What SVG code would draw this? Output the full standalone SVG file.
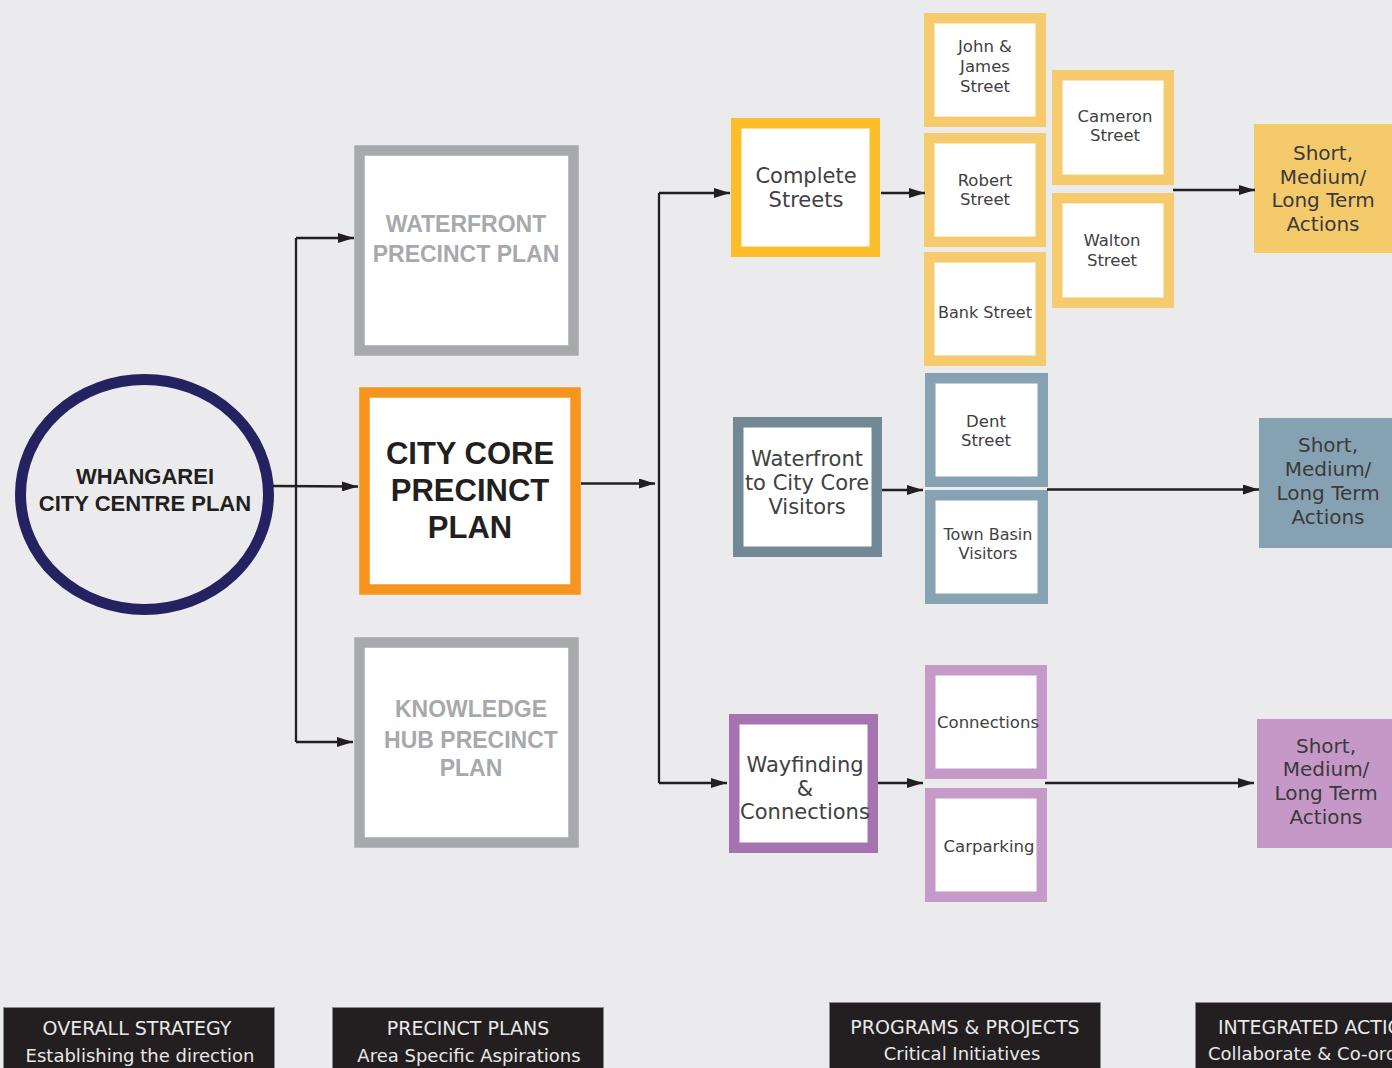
<svg xmlns="http://www.w3.org/2000/svg" width="1392" height="1068" viewBox="0 0 1392 1068">
<defs>
<marker id="arr" markerUnits="userSpaceOnUse" markerWidth="16" markerHeight="10" refX="16" refY="5" orient="auto">
<path d="M0,0 L16,5 L0,10 z" fill="#231F20"/>
</marker>
<style>
.box{fill:#fff;stroke-width:10.5}
.big{font-family:"Liberation Sans",Arial,sans-serif;font-weight:bold;text-anchor:middle}
.lbl{font-family:"DejaVu Sans",sans-serif;fill:#414042;text-anchor:middle}
.m{font-size:21px}
.s{font-size:16.5px}
.act{font-family:"DejaVu Sans",sans-serif;fill:#3a3a3c;text-anchor:middle;font-size:20px}
.leg{fill:#231F20;stroke:#8a8a8a;stroke-width:1}
.legt{font-family:"DejaVu Sans",sans-serif;fill:#e8e8e8;text-anchor:middle}
.con{fill:none;stroke:#231F20;stroke-width:2.3}
</style>
</defs>
<rect x="0" y="0" width="1392" height="1068" fill="#EBEBED"/>

<g id="whangarei">
<ellipse cx="144.5" cy="494.5" rx="124" ry="115" fill="none" stroke="#252262" stroke-width="11"/>
<text class="big" x="145" y="484" font-size="22" fill="#231F20">WHANGAREI</text>
<text class="big" x="145" y="511" font-size="22" fill="#231F20">CITY CENTRE PLAN</text>
</g>

<g id="waterfront-precinct">
<rect class="box" x="359.5" y="150.5" width="214" height="200" stroke="#A7A9AC" stroke-width="11"/>
<text class="big" x="466" y="232" font-size="23" fill="#A7A9AC">WATERFRONT</text>
<text class="big" x="466" y="262" font-size="23" fill="#A7A9AC">PRECINCT PLAN</text>
</g>

<g id="city-core">
<rect class="box" x="364.5" y="392.5" width="211" height="197" stroke="#F7941D" stroke-width="11"/>
<text class="big" x="470" y="464" font-size="31" fill="#231F20">CITY CORE</text>
<text class="big" x="470" y="501" font-size="31" fill="#231F20">PRECINCT</text>
<text class="big" x="470" y="538" font-size="31" fill="#231F20">PLAN</text>
</g>

<g id="knowledge-hub">
<rect class="box" x="359.5" y="642.5" width="214" height="200" stroke="#A7A9AC" stroke-width="11"/>
<text class="big" x="471" y="717" font-size="23" fill="#A7A9AC">KNOWLEDGE</text>
<text class="big" x="471" y="748" font-size="23" fill="#A7A9AC">HUB PRECINCT</text>
<text class="big" x="471" y="776" font-size="23" fill="#A7A9AC">PLAN</text>
</g>

<g id="complete-streets">
<rect class="box" x="736.25" y="123.25" width="138.5" height="128.5" stroke="#FDBE2C"/>
<text class="lbl m" x="806" y="183">Complete</text>
<text class="lbl m" x="806" y="207">Streets</text>
</g>

<g id="john-james">
<rect class="box" x="929.25" y="18.25" width="111.5" height="103.5" stroke="#F5CB6E"/>
<text class="lbl s" x="985" y="52">John &amp;</text>
<text class="lbl s" x="985" y="72">James</text>
<text class="lbl s" x="985" y="92">Street</text>
</g>

<g id="robert">
<rect class="box" x="929.25" y="138.25" width="111.5" height="103.5" stroke="#F5CB6E"/>
<text class="lbl s" x="985" y="186">Robert</text>
<text class="lbl s" x="985" y="205">Street</text>
</g>

<g id="bank">
<rect class="box" x="929.25" y="257.25" width="111.5" height="103.5" stroke="#F5CB6E"/>
<text class="lbl" x="985" y="318" font-size="16">Bank Street</text>
</g>

<g id="cameron">
<rect class="box" x="1057.25" y="75.25" width="111.5" height="104.5" stroke="#F5CB6E"/>
<text class="lbl s" x="1115" y="121.5">Cameron</text>
<text class="lbl s" x="1115" y="141">Street</text>
</g>

<g id="walton">
<rect class="box" x="1057.25" y="198.25" width="111.5" height="104.5" stroke="#F5CB6E"/>
<text class="lbl s" x="1112" y="246">Walton</text>
<text class="lbl s" x="1112" y="266">Street</text>
</g>

<g id="actions-yellow">
<rect x="1254" y="124" width="146" height="129" fill="#F5CA6A"/>
<text class="act" x="1323" y="160">Short,</text>
<text class="act" x="1323" y="184">Medium/</text>
<text class="act" x="1323" y="207">Long Term</text>
<text class="act" x="1323" y="231">Actions</text>
</g>

<g id="waterfront-visitors">
<rect class="box" x="738.25" y="422.25" width="138.5" height="129.5" stroke="#728894"/>
<text class="lbl m" x="807" y="466">Waterfront</text>
<text class="lbl m" x="807" y="490">to City Core</text>
<text class="lbl m" x="807" y="514">Visitors</text>
</g>

<g id="dent">
<rect class="box" x="930.25" y="378.25" width="112.5" height="103.5" stroke="#87A2B2"/>
<text class="lbl s" x="986" y="427">Dent</text>
<text class="lbl s" x="986" y="446">Street</text>
</g>

<g id="town-basin">
<rect class="box" x="930.25" y="495.25" width="112.5" height="103.5" stroke="#87A2B2"/>
<text class="lbl" x="988" y="540" font-size="16">Town Basin</text>
<text class="lbl" x="988" y="559" font-size="16">Visitors</text>
</g>

<g id="actions-blue">
<rect x="1259" y="418" width="141" height="130" fill="#86A2B2"/>
<text class="act" x="1328" y="452">Short,</text>
<text class="act" x="1328" y="476">Medium/</text>
<text class="act" x="1328" y="500">Long Term</text>
<text class="act" x="1328" y="524">Actions</text>
</g>

<g id="wayfinding">
<rect class="box" x="734.25" y="719.25" width="138.5" height="128.5" stroke="#A574B0"/>
<text class="lbl m" x="805" y="772">Wayfinding</text>
<text class="lbl m" x="805" y="796">&amp;</text>
<text class="lbl m" x="805" y="819">Connections</text>
</g>

<g id="connections">
<rect class="box" x="930.25" y="670.25" width="111.5" height="103.5" stroke="#C69AC8"/>
<text class="lbl" x="988" y="728" font-size="16.5">Connections</text>
</g>

<g id="carparking">
<rect class="box" x="930.25" y="793.25" width="111.5" height="103.5" stroke="#C69AC8"/>
<text class="lbl s" x="989" y="852">Carparking</text>
</g>

<g id="actions-purple">
<rect x="1257" y="719" width="143" height="129" fill="#C598C7"/>
<text class="act" x="1326" y="753">Short,</text>
<text class="act" x="1326" y="776">Medium/</text>
<text class="act" x="1326" y="800">Long Term</text>
<text class="act" x="1326" y="824">Actions</text>
</g>

<g id="connectors">
<path class="con" d="M296,238 V742"/>
<path class="con" d="M296,238 H354" marker-end="url(#arr)"/>
<path class="con" d="M273,486 L358,486.5" marker-end="url(#arr)"/>
<path class="con" d="M296,742 H353" marker-end="url(#arr)"/>
<path class="con" d="M581,483.5 H655" marker-end="url(#arr)"/>
<path class="con" d="M659,193 V783"/>
<path class="con" d="M659,193 H730" marker-end="url(#arr)"/>
<path class="con" d="M659,783 H727" marker-end="url(#arr)"/>
<path class="con" d="M881,193 H925" marker-end="url(#arr)"/>
<path class="con" d="M1173,190 H1255" marker-end="url(#arr)"/>
<path class="con" d="M882,490 H923" marker-end="url(#arr)"/>
<path class="con" d="M1047,489.5 H1259" marker-end="url(#arr)"/>
<path class="con" d="M878,783 H923" marker-end="url(#arr)"/>
<path class="con" d="M1045,783 H1254" marker-end="url(#arr)"/>
</g>

<g id="legend-overall">
<rect class="leg" x="3.5" y="1007.5" width="271" height="70"/>
<text class="legt" x="137" y="1035" font-size="19">OVERALL STRATEGY</text>
<text class="legt" x="140" y="1062" font-size="18">Establishing the direction</text>
</g>
<g id="legend-precinct">
<rect class="leg" x="332.5" y="1007.5" width="271" height="70"/>
<text class="legt" x="468" y="1035" font-size="19">PRECINCT PLANS</text>
<text class="legt" x="469" y="1062" font-size="18">Area Specific Aspirations</text>
</g>
<g id="legend-programs">
<rect class="leg" x="829.5" y="1002.5" width="271" height="75"/>
<text class="legt" x="965" y="1034" font-size="19">PROGRAMS &amp; PROJECTS</text>
<text class="legt" x="962" y="1060" font-size="18">Critical Initiatives</text>
</g>
<g id="legend-integrated">
<rect class="leg" x="1195.5" y="1002.5" width="271" height="75"/>
<text class="legt" x="1218" y="1034" font-size="19" style="text-anchor:start">INTEGRATED ACTIONS</text>
<text class="legt" x="1208" y="1060" font-size="18" style="text-anchor:start">Collaborate &amp; Co-ordinate</text>
</g>
</svg>
